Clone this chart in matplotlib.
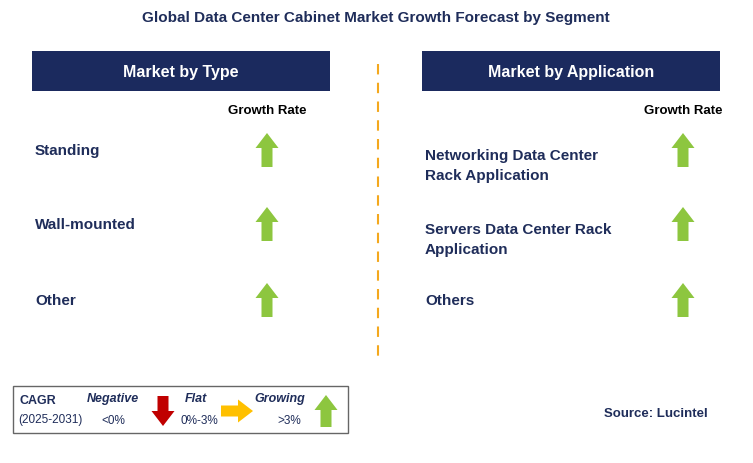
import matplotlib.pyplot as plt
from matplotlib.patches import Rectangle, FancyArrow

plt.rcParams["font.family"] = "Liberation Sans"

title = "Global Data Center Cabinet Market Growth Forecast by Segment"
type_labels = ["Standing", "Wall-mounted", "Other"]
type_trend = ["up", "up", "up"]
app_labels = ["Networking Data Center\nRack Application",
              "Servers Data Center Rack\nApplication", "Others"]
app_trend = ["up", "up", "up"]
row_y = [151, 225, 301]

navy = "#1B2A5E"
txt = "#1F2D5A"
green = "#8DC63F"
colors = {"up": green, "flat": "#FFC000", "down": "#C00000"}

fig = plt.figure(figsize=(7.53, 4.64), dpi=100)
ax = fig.add_axes([0, 0, 1, 1])
ax.set_xlim(0, 753)
ax.set_ylim(464, 0)
ax.axis("off")

ax.text(376, 18, title, ha="center", va="center", fontsize=11, fontweight="bold", color=txt)


def arrow(x, y, kind, size=34):
    c = colors[kind]
    if kind == "up":
        ax.add_patch(FancyArrow(x, y + size / 2, 0, -size, width=11, head_width=23,
                                head_length=15, length_includes_head=True, color=c, lw=0))
    elif kind == "down":
        ax.add_patch(FancyArrow(x, y - size / 2, 0, size, width=11, head_width=23,
                                head_length=15, length_includes_head=True, color=c, lw=0))
    else:
        ax.add_patch(FancyArrow(x - size / 2, y, size, 0, width=11, head_width=23,
                                head_length=15, length_includes_head=True, color=c, lw=0))


def panel(x0, x1, head, labels, trends, arrow_x):
    ax.add_patch(Rectangle((x0, 52), x1 - x0, 40, color=navy, lw=0))
    ax.text((x0 + x1) / 2, 72, head, ha="center", va="center", fontsize=11.5,
            fontweight="bold", color="white")
    ax.text(arrow_x, 111, "Growth Rate", ha="center", va="center", fontsize=9.5,
            fontweight="bold", color="black")
    for lab, tr, y in zip(labels, trends, row_y):
        ax.text(x0 + 3, y + (15 if "\n" in lab else 0), lab,
                ha="left", va="center", fontsize=11, fontweight="bold", color=txt,
                linespacing=1.5)
        arrow(arrow_x, y, tr)


panel(32, 330, "Market by Type", type_labels, type_trend, 267)
panel(422, 720, "Market by Application", app_labels, app_trend, 683)
ax.plot([378, 378], [65, 365], ls=(0, (5, 4)), color="#F4A81D", lw=1.5)

# legend box
ax.add_patch(Rectangle((13, 387), 335, 47, fill=False, ec="#666666", lw=1))
ax.text(20, 401, "CAGR", fontsize=9, fontweight="bold", color=txt, va="center")
ax.text(18, 420, "(2025-2031)", fontsize=8.5, color=txt, va="center")
ax.text(113, 399, "Negative", fontsize=9, fontweight="bold", style="italic", color=txt, ha="center", va="center")
ax.text(113, 421, "<0%", fontsize=8.5, color=txt, ha="center", va="center")
arrow(163, 412, "down", 30)
ax.text(196, 399, "Flat", fontsize=9, fontweight="bold", style="italic", color=txt, ha="center", va="center")
ax.text(199, 421, "0%-3%", fontsize=8.5, color=txt, ha="center", va="center")
arrow(237, 412, "flat", 32)
ax.text(280, 399, "Growing", fontsize=9, fontweight="bold", style="italic", color=txt, ha="center", va="center")
ax.text(289, 421, ">3%", fontsize=8.5, color=txt, ha="center", va="center")
arrow(326, 412, "up", 32)

ax.text(708, 414, "Source: Lucintel", ha="right", va="center", fontsize=9.5,
        fontweight="bold", color=txt)

fig.savefig("out.png", dpi=100)
